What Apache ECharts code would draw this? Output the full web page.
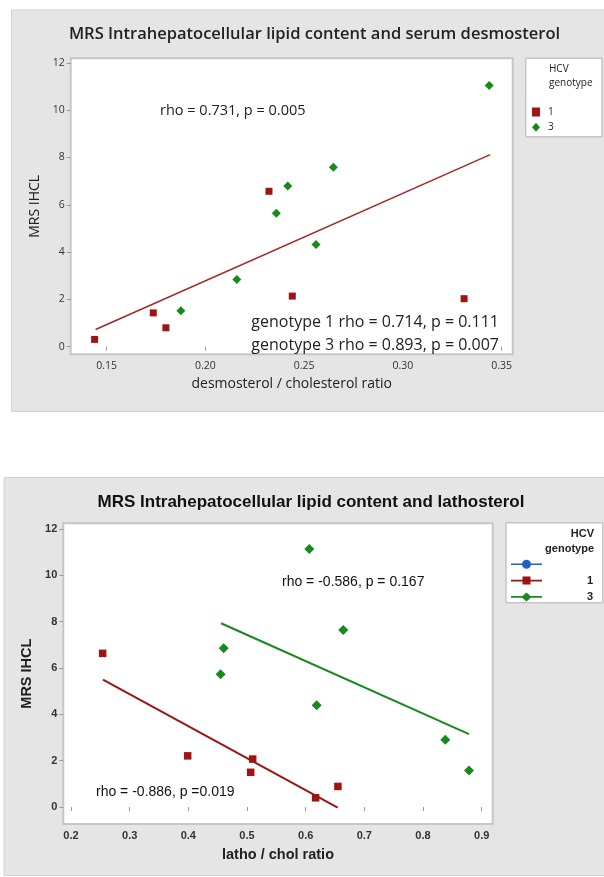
<!DOCTYPE html>
<html>
<head>
<meta charset="utf-8">
<script src="https://cdn.jsdelivr.net/npm/echarts@6/dist/echarts.min.js"></script>
<style>
  html, body { margin: 0; padding: 0; background: #fff; }
  #chart { width: 604px; height: 877px; }
</style>
</head>
<body>
<div id="chart"></div>
<script>
  // desmosterol panel (top)
  const desmoG1 = [[0.1439, 0.31], [0.1736, 1.43], [0.180, 0.80], [0.2322, 6.57], [0.244, 2.14], [0.331, 2.03]];
  const desmoG3 = [[0.1876, 1.52], [0.2159, 2.84], [0.2359, 5.64], [0.2417, 6.79], [0.256, 4.32], [0.2648, 7.59], [0.3437, 11.04]];
  const desmoFit = [[0.1444, 0.73], [0.3442, 8.12]];
  const desmoXTicks = [0.15, 0.20, 0.25, 0.30, 0.35];

  // lathosterol panel (bottom)
  const lathoG1 = [[0.254, 6.63], [0.3989, 2.21], [0.5097, 2.07], [0.5063, 1.50], [0.617, 0.40], [0.655, 0.89]];
  const lathoG3 = [[0.4551, 5.73], [0.4603, 6.85], [0.6062, 11.13], [0.6188, 4.39], [0.6641, 7.64], [0.838, 2.90], [0.8784, 1.58]];
  const lathoFit1 = [[0.2545, 5.50], [0.6546, -0.02]];
  const lathoFit3 = [[0.4557, 7.93], [0.8784, 3.15]];
  const lathoXTicks = [0.2, 0.3, 0.4, 0.5, 0.6, 0.7, 0.8, 0.9];

  const yTicks = [0, 2, 4, 6, 8, 10, 12];

  const RED = '#9c1414';
  const GREEN = '#178a1c';
  const BLUE = '#2160c4';
  const PANEL = '#e5e5e5';
  const BORDER = '#c6c6c6';
  const calibri = '"Open Sans", "Noto Sans", sans-serif';
  const helv = '"Liberation Sans", Arial, sans-serif';

  // legend icons: line with marker in the middle
  const iconCircle = 'path://M0,3.7 L31,3.7 L31,5.3 L0,5.3 Z M11,4.5 A4.5,4.5 0 1,1 20,4.5 A4.5,4.5 0 1,1 11,4.5 Z';
  const iconSquare = 'path://M0,3.7 L31,3.7 L31,5.3 L0,5.3 Z M11.5,0.5 L19.5,0.5 L19.5,8.5 L11.5,8.5 Z M15.5,0 L15.6,0 L15.6,9 L15.5,9 Z';
  const iconDiamond = 'path://M0,3.7 L31,3.7 L31,5.3 L0,5.3 Z M15.5,0 L20.5,4.5 L15.5,9 L10.5,4.5 Z';
  const lathoNames = { blank: '', b1: '1', b3: '3' };

  const eChart = echarts.init(document.getElementById('chart'));

  function valueAxis(grid, min, max, ticks, digits, name, gap, font, bold, labelSize, nameSize) {
    return {
      type: 'value',
      gridIndex: grid,
      min: min,
      max: max,
      name: name,
      nameLocation: 'middle',
      nameGap: gap,
      nameTextStyle: { fontFamily: font, fontSize: nameSize, fontWeight: bold ? 'bold' : 'normal', color: '#222' },
      axisLine: { show: false },
      axisTick: { show: true, length: 4, customValues: ticks, lineStyle: { color: '#9a9a9a', width: 1 } },
      axisLabel: {
        customValues: ticks,
        margin: 6,
        fontFamily: font,
        fontSize: labelSize,
        fontWeight: bold ? 'bold' : 'normal',
        color: '#333',
        formatter: (v) => v.toFixed(digits)
      },
      splitLine: { show: false }
    };
  }

  eChart.setOption({
    animation: false,
    grid: [
      { left: 70.7, top: 58.3, width: 442, height: 296, show: true, backgroundColor: '#fff', borderColor: BORDER, borderWidth: 2 },
      { left: 63.3, top: 523.3, width: 429.4, height: 300.7, show: true, backgroundColor: '#fff', borderColor: BORDER, borderWidth: 2 }
    ],
    xAxis: [
      valueAxis(0, 0.1318, 0.3556, desmoXTicks, 2, 'desmosterol / cholesterol ratio', 23, calibri, false, 10.5, 14),
      valueAxis(1, 0.1869, 0.9188, lathoXTicks, 1, 'latho / chol ratio', 23, helv, true, 11, 14.5)
    ],
    yAxis: [
      valueAxis(0, -0.32, 12.19, yTicks, 0, 'MRS IHCL', 25, calibri, false, 10.5, 14),
      valueAxis(1, -0.73, 12.24, yTicks, 0, 'MRS IHCL', 24, helv, true, 11, 14.5)
    ],
    legend: [
      {
        selectedMode: false,
        orient: 'vertical',
        left: 532,
        top: 107,
        padding: 0,
        itemWidth: 8,
        itemHeight: 9,
        itemGap: 5.3,
        textStyle: { fontFamily: calibri, fontSize: 10, color: '#222', lineHeight: 9, padding: [0, 0, 0, 3] },
        data: [{ name: '1', icon: 'rect' }, { name: '3', icon: 'diamond' }]
      },
      {
        selectedMode: false,
        orient: 'vertical',
        left: 511,
        top: 558.8,
        padding: 0,
        itemWidth: 31,
        itemHeight: 9,
        itemGap: 5.3,
        formatter: (name) => '{r|' + lathoNames[name] + '}',
        textStyle: {
          rich: { r: { fontFamily: helv, fontWeight: 'bold', fontSize: 11, color: '#222', width: 46, align: 'right', lineHeight: 9 } }
        },
        data: [{ name: 'blank', icon: iconCircle }, { name: 'b1', icon: iconSquare }, { name: 'b3', icon: iconDiamond }]
      }
    ],
    graphic: [
      { type: 'rect', z: -10, shape: { x: 11.5, y: 10, width: 600, height: 401.5 }, style: { fill: PANEL, stroke: '#d2d2d2', lineWidth: 1 } },
      { type: 'rect', z: -10, shape: { x: 4, y: 477.5, width: 606, height: 398 }, style: { fill: PANEL, stroke: '#d2d2d2', lineWidth: 1 } },
      { type: 'rect', z: 1, shape: { x: 525.7, y: 58.3, width: 76.3, height: 78.4 }, style: { fill: '#fff', stroke: BORDER, lineWidth: 1.5 } },
      { type: 'rect', z: 1, shape: { x: 506, y: 522.7, width: 96.7, height: 80 }, style: { fill: '#fff', stroke: BORDER, lineWidth: 1.5 } },
      { type: 'text', z: 10, x: 314.5, y: 34, style: { text: 'MRS Intrahepatocellular lipid content and serum desmosterol', fontFamily: calibri, fontSize: 16.5, fontWeight: 600, fill: '#222', textAlign: 'center', textVerticalAlign: 'middle' } },
      { type: 'text', z: 10, x: 311, y: 502, style: { text: 'MRS Intrahepatocellular lipid content and lathosterol', fontFamily: helv, fontSize: 17, fontWeight: 'bold', fill: '#111', textAlign: 'center', textVerticalAlign: 'middle' } },
      { type: 'text', z: 10, x: 549, y: 69, style: { text: 'HCV', fontFamily: calibri, fontSize: 10, fill: '#222', textAlign: 'left', textVerticalAlign: 'middle' } },
      { type: 'text', z: 10, x: 549, y: 83, style: { text: 'genotype', fontFamily: calibri, fontSize: 10, fill: '#222', textAlign: 'left', textVerticalAlign: 'middle' } },
      { type: 'text', z: 10, x: 594, y: 534.3, style: { text: 'HCV', fontFamily: helv, fontSize: 11, fontWeight: 'bold', fill: '#222', textAlign: 'right', textVerticalAlign: 'middle' } },
      { type: 'text', z: 10, x: 594, y: 549, style: { text: 'genotype', fontFamily: helv, fontSize: 11, fontWeight: 'bold', fill: '#222', textAlign: 'right', textVerticalAlign: 'middle' } },
      { type: 'text', z: 10, x: 160, y: 111, style: { text: 'rho = 0.731, p = 0.005', fontFamily: calibri, fontSize: 14.5, fill: '#222', textAlign: 'left', textVerticalAlign: 'middle' } },
      { type: 'text', z: 10, x: 499, y: 322.7, style: { text: 'genotype 1 rho = 0.714, p = 0.111', fontFamily: calibri, fontSize: 16, fill: '#222', textAlign: 'right', textVerticalAlign: 'middle' } },
      { type: 'text', z: 10, x: 499, y: 345, style: { text: 'genotype 3 rho = 0.893, p = 0.007', fontFamily: calibri, fontSize: 16, fill: '#222', textAlign: 'right', textVerticalAlign: 'middle' } },
      { type: 'text', z: 10, x: 282, y: 581.7, style: { text: 'rho = -0.586, p = 0.167', fontFamily: helv, fontSize: 14, fill: '#111', textAlign: 'left', textVerticalAlign: 'middle' } },
      { type: 'text', z: 10, x: 96, y: 791.7, style: { text: 'rho = -0.886, p =0.019', fontFamily: helv, fontSize: 14, fill: '#111', textAlign: 'left', textVerticalAlign: 'middle' } }
    ],
    series: [
      { name: 'fitTop', type: 'line', xAxisIndex: 0, yAxisIndex: 0, data: desmoFit, symbol: 'none', silent: true, lineStyle: { color: '#a52626', width: 1.5 }, z: 2 },
      { name: '1', type: 'scatter', xAxisIndex: 0, yAxisIndex: 0, data: desmoG1, symbol: 'rect', symbolSize: 7, itemStyle: { color: RED, opacity: 1 }, z: 3 },
      { name: '3', type: 'scatter', xAxisIndex: 0, yAxisIndex: 0, data: desmoG3, symbol: 'diamond', symbolSize: 9, itemStyle: { color: GREEN, opacity: 1 }, z: 3 },
      { name: 'blank', type: 'scatter', xAxisIndex: 1, yAxisIndex: 1, data: [], itemStyle: { color: BLUE, opacity: 1 } },
      { name: 'fitB1', type: 'line', xAxisIndex: 1, yAxisIndex: 1, data: lathoFit1, symbol: 'none', silent: true, lineStyle: { color: RED, width: 2 }, z: 2 },
      { name: 'fitB3', type: 'line', xAxisIndex: 1, yAxisIndex: 1, data: lathoFit3, symbol: 'none', silent: true, lineStyle: { color: GREEN, width: 2 }, z: 2 },
      { name: 'b1', type: 'scatter', xAxisIndex: 1, yAxisIndex: 1, data: lathoG1, symbol: 'rect', symbolSize: 7.5, itemStyle: { color: RED, opacity: 1 }, z: 3 },
      { name: 'b3', type: 'scatter', xAxisIndex: 1, yAxisIndex: 1, data: lathoG3, symbol: 'diamond', symbolSize: 10, itemStyle: { color: GREEN, opacity: 1 }, z: 3 }
    ]
  });
</script>
</body>
</html>
